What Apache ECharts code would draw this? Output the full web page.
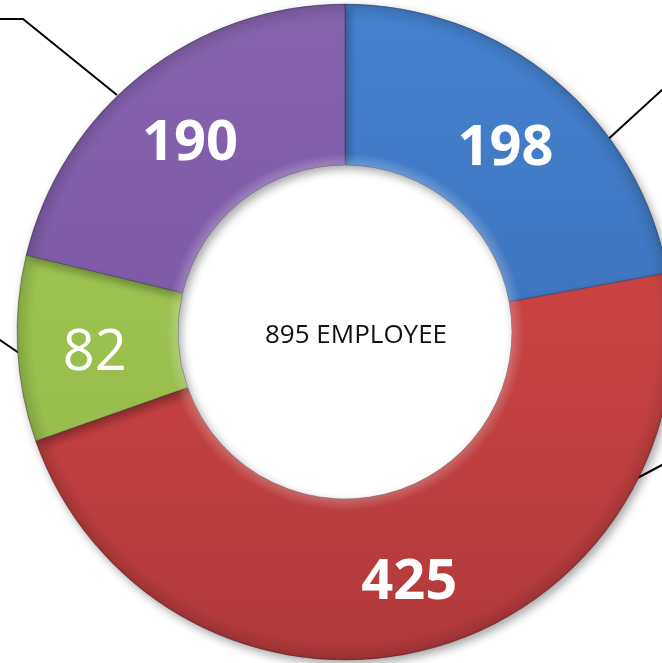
<!DOCTYPE html>
<html>
<head>
<meta charset="utf-8">
<script src="https://cdn.jsdelivr.net/npm/echarts@6/dist/echarts.min.js"></script>
<style>
  html, body { margin: 0; padding: 0; background: #fff; }
  #chart { width: 662px; height: 663px; }
</style>
</head>
<body>
<div id="chart"></div>
<script>
// data
const categories = ['Group A', 'Group B', 'Group C', 'Group D']
const employees = [198, 425, 82, 190]
const centerLabel = 'EMPLOYEE'

// slice colours, top -> bottom of the ring
const topColors = ['#4682cf', '#dc4b47', '#a3c955', '#8664ae']
const bottomColors = ['#3568ad', '#b1393a', '#92b747', '#714f9f']

// leader lines of the outside labels (the labels themselves are off the picture)
const leaderLines = [
  [[604, 143], [662, 90], [700, 55]],
  [[630, 482], [662, 465], [700, 445]],
  [[22, 355], [0, 340], [-30, 320]],
  [[117, 95], [23, 19], [-30, 19]]
]

const CX = 345, CY = 332, R_IN = 167, R_OUT = 328
const total = employees.reduce((a, b) => a + b, 0)

const chart = echarts.init(document.getElementById('chart'))

const ring = { center: [CX, CY], radius: [R_IN, R_OUT], startAngle: 90, clockwise: true }

// soft bevel: light rim inside, dark rim outside
const bevel = new echarts.graphic.RadialGradient(CX, CY, R_OUT, [
  { offset: 0, color: 'rgba(255,255,255,0)' },
  { offset: R_IN / R_OUT, color: 'rgba(255,255,255,0.22)' },
  { offset: (R_IN + 12) / R_OUT, color: 'rgba(255,255,255,0)' },
  { offset: 0.95, color: 'rgba(0,0,0,0)' },
  { offset: 0.99, color: 'rgba(0,0,0,0.10)' },
  { offset: 1, color: 'rgba(0,0,0,0.18)' }
], true)

const option = {
  animation: false,
  title: {
    text: total + ' ' + centerLabel,
    left: 265,
    top: 323,
    padding: 0,
    textStyle: { fontFamily: 'Open Sans', fontSize: 26, fontWeight: 'normal', color: '#111' }
  },
  series: [
    {
      type: 'pie',
      ...ring,
      silent: true,
      itemStyle: {
        borderColor: 'rgba(40,40,60,0.35)',
        borderWidth: 1,
        shadowBlur: 10,
        shadowOffsetX: 3,
        shadowOffsetY: 4,
        shadowColor: 'rgba(0,0,0,0.35)'
      },
      label: { show: false },
      labelLine: { show: false },
      data: categories.map((name, i) => ({
        name,
        value: employees[i],
        itemStyle: {
          color: new echarts.graphic.LinearGradient(0, CY - R_OUT, 0, CY + R_OUT, [
            { offset: 0, color: topColors[i] },
            { offset: 1, color: bottomColors[i] }
          ], true)
        }
      }))
    },
    {
      type: 'pie',
      ...ring,
      silent: true,
      avoidLabelOverlap: false,
      itemStyle: { color: bevel, borderWidth: 0 },
      label: {
        show: true,
        position: 'inside',
        formatter: '{c}',
        color: '#fff',
        fontFamily: 'Open Sans',
        fontSize: 56
      },
      labelLayout: () => ({ dy: 9 }),
      labelLine: { show: false },
      data: categories.map((name, i) => ({
        name,
        value: employees[i],
        label: { fontWeight: i === 2 ? 'normal' : 'bold' }
      }))
    },
    {
      type: 'pie',
      ...ring,
      silent: true,
      avoidLabelOverlap: false,
      itemStyle: { color: 'rgba(0,0,0,0)' },
      label: {
        show: true,
        position: 'outside',
        formatter: '{b}',
        color: '#000',
        fontFamily: 'Open Sans',
        fontWeight: 'bold',
        fontSize: 22
      },
      labelLine: {
        show: true,
        lineStyle: { color: '#000', width: 2 }
      },
      labelLayout: (params) => {
        const pts = leaderLines[params.dataIndex]
        const end = pts[2]
        return {
          x: end[0] + (end[0] < CX ? -10 : 10),
          y: end[1],
          align: end[0] < CX ? 'right' : 'left',
          verticalAlign: 'middle',
          labelLinePoints: pts
        }
      },
      data: categories.map((name, i) => ({ name, value: employees[i] }))
    }
  ]
}

chart.setOption(option)
</script>
</body>
</html>
